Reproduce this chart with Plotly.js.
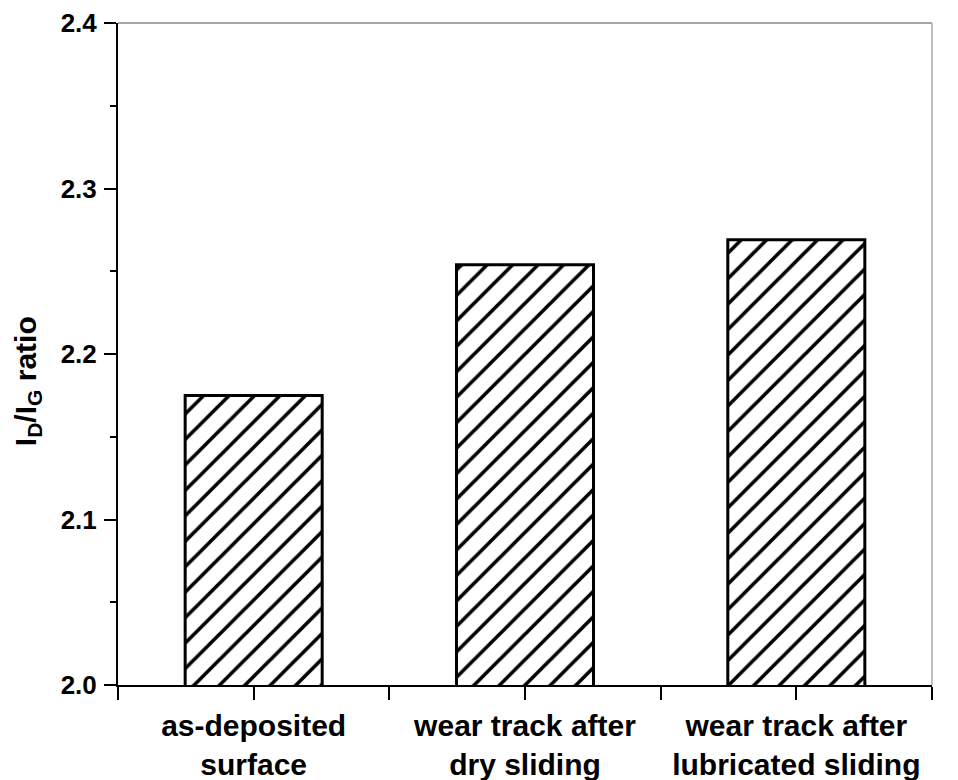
<!DOCTYPE html>
<html>
<head>
<meta charset="utf-8">
<script src="https://cdn.plot.ly/plotly-3.0.1.min.js"></script>
<style>html,body{margin:0;padding:0;background:#fff;}#chart{width:958px;height:780px;}</style>
</head>
<body>
<div id="chart"></div>
<script>
const categories = ["as-deposited<br>surface", "wear track after<br>dry sliding", "wear track after<br>lubricated sliding"];
const ratioValues = [2.175, 2.254, 2.269];
const yTickValues = [2.0, 2.1, 2.2, 2.3, 2.4];
const yTickLabels = ["2.0", "2.1", "2.2", "2.3", "2.4"];
const yAxisTitle = "I<sub>D</sub>/I<sub>G</sub> ratio";

const xPos = categories.map((c, i) => i);

const fontFam = "Liberation Sans, Arial, Helvetica, sans-serif";

const trace = {
  type: "bar",
  x: xPos,
  y: ratioValues,
  width: 0.505,
  marker: {
    color: "#ffffff",
    line: {color: "#000000", width: 3},
    pattern: {shape: "/", fgcolor: "#000000", bgcolor: "#ffffff", size: 18, solidity: 0.2}
  },
  hoverinfo: "skip"
};

const layout = {
  width: 958, height: 780,
  margin: {l: 118, r: 26, t: 23, b: 95},
  paper_bgcolor: "#ffffff", plot_bgcolor: "#ffffff",
  showlegend: false,
  font: {family: fontFam, color: "#000000"},
  xaxis: {
    type: "linear",
    range: [-0.5, 2.5],
    tickmode: "array", tickvals: xPos, ticktext: categories,
    ticks: "outside", ticklen: 13, tickwidth: 2, tickcolor: "#000000",
    minor: {tick0: -0.5, dtick: 0.5, ticks: "outside", ticklen: 13, tickwidth: 2, tickcolor: "#000000", showgrid: false},
    showline: true, linecolor: "#000000", linewidth: 2,
    showgrid: false, zeroline: false,
    tickfont: {family: fontFam, size: 30, weight: "bold", color: "#000000"},
    ticklabelstandoff: 0,
    automargin: false,
    fixedrange: true
  },
  yaxis: {
    range: [2.0, 2.4],
    tickmode: "array", tickvals: yTickValues, ticktext: yTickLabels,
    ticks: "outside", ticklen: 12, tickwidth: 2, tickcolor: "#000000",
    minor: {dtick: 0.05, tick0: 2.0, ticks: "outside", ticklen: 6, tickwidth: 2, tickcolor: "#000000", showgrid: false},
    showline: true, linecolor: "#000000", linewidth: 2,
    showgrid: false, zeroline: false,
    tickfont: {family: fontFam, size: 26, weight: "bold", color: "#000000"},
    ticklabelstandoff: 2,
    automargin: false,
    fixedrange: true
  },
  annotations: [
    {text: yAxisTitle, xref: "paper", yref: "paper", x: 0, y: 0.459, xanchor: "center", yanchor: "middle",
     xshift: -91, textangle: -90, showarrow: false,
     font: {family: fontFam, size: 30, weight: "bold", color: "#000000"}}
  ],
  shapes: [
    {type: "line", xref: "paper", yref: "paper", x0: 0, x1: 1, y0: 1, y1: 1, line: {color: "#888888", width: 1.5}},
    {type: "line", xref: "paper", yref: "paper", x0: 1, x1: 1, y0: 0, y1: 1, line: {color: "#aaaaaa", width: 1.5}}
  ]
};

Plotly.newPlot("chart", [trace], layout, {displayModeBar: false, staticPlot: true});
</script>
</body>
</html>
